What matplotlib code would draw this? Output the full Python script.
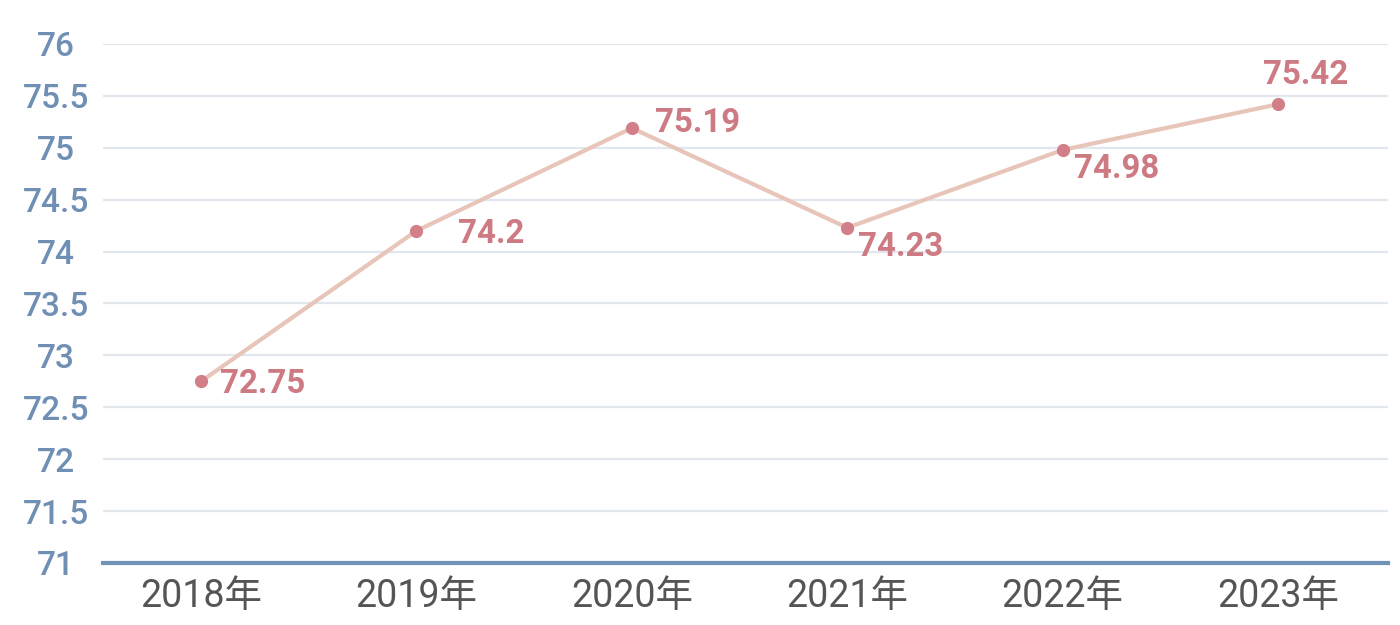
import matplotlib
matplotlib.use("Agg")
import matplotlib.pyplot as plt

# data
years = ["2018年", "2019年", "2020年", "2021年", "2022年", "2023年"]
values = [72.75, 74.2, 75.19, 74.23, 74.98, 75.42]
yticks = [71, 71.5, 72, 72.5, 73, 73.5, 74, 74.5, 75, 75.5, 76]

# label offsets in points (dx, dy), ha
label_offsets = [(14, -2, "left"), (30, -2, "left"), (17, 4, "left"),
                 (8, -14, "left"), (8, -14, "left"), (20, 21, "center")]

plt.rcParams['font.family'] = ['Roboto', 'Noto Sans CJK SC', 'DejaVu Sans']

fig = plt.figure(figsize=(14, 6.25), dpi=100)
ax = fig.add_axes([103 / 1400, 1 - 563 / 625, (1388 - 103) / 1400, (563 - 44) / 625])

x = list(range(len(years)))
ax.plot(x, values, color="#e8c5b9", linewidth=3, zorder=3)
ax.plot(x, values, linestyle="none", marker="o", markersize=8.5,
        color="#d27f89", zorder=4)

for xi, v, (dx, dy, ha) in zip(x, values, label_offsets):
    ax.annotate(f"{v:g}", (xi, v), xytext=(dx, dy), textcoords="offset points",
                ha=ha, va="center", fontsize=23.8, fontweight="bold",
                color="#cd7a83", zorder=5)

ax.set_xlim(-0.455, 5.51)
ax.set_ylim(71, 76)
ax.set_yticks(yticks)
ax.set_yticklabels([f"{t:g}" for t in yticks])
ax.set_xticks(x)
ax.set_xticklabels(years)

ax.grid(axis="y", color="#e2e7ee", linewidth=1.6)
ax.set_axisbelow(True)
for side in ["top", "right", "left"]:
    ax.spines[side].set_visible(False)
ax.spines["bottom"].set_color("#7093b7")
ax.spines["bottom"].set_linewidth(3)
ax.spines["bottom"].set_zorder(6)

ax.tick_params(axis="y", length=0, pad=34, labelsize=24, labelcolor="#6f8fb4")
for lbl in ax.get_yticklabels():
    lbl.set_horizontalalignment("center")
    lbl.set_fontweight("medium")
ax.tick_params(axis="x", length=0, pad=11, labelsize=27, labelcolor="#555555")

fig.savefig("out.png", dpi=100, facecolor="white")
